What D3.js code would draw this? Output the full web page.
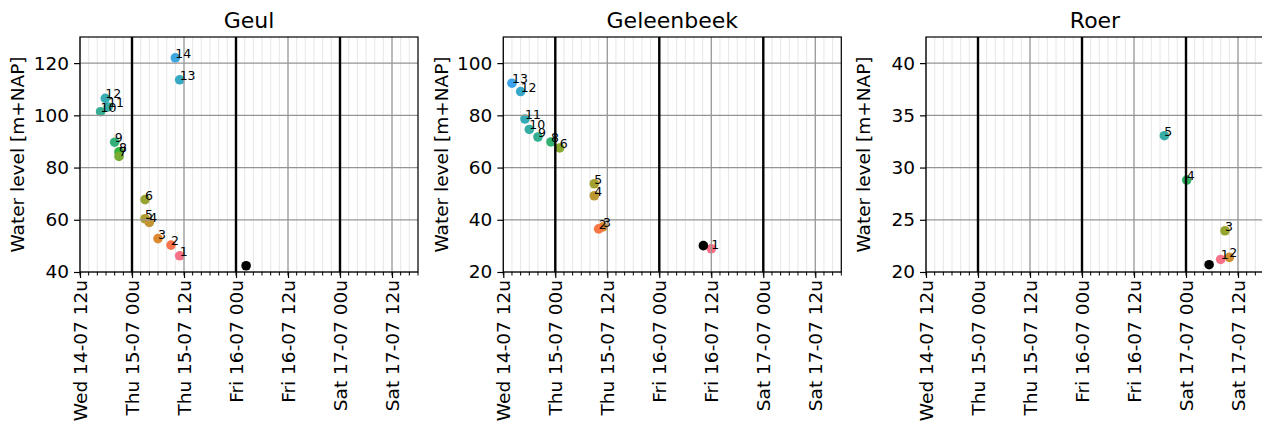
<!DOCTYPE html>
<html>
<head>
<meta charset="utf-8">
<script src="https://cdn.jsdelivr.net/npm/d3@7"></script>
<style>
  body { margin: 0; background: #fff; }
  text { font-family: "DejaVu Sans", sans-serif; fill: #000; }
</style>
</head>
<body>
<svg id="chart" width="1262" height="432"></svg>
<script>
// ---- data -------------------------------------------------------------
const stations = ["Geul", "Geleenbeek", "Roer"];

const geulLabels = [1, 2, 3, 4, 5, 6, 7, 8, 9, 10, 11, 12, 13, 14];
const geulTimes = ["2021-07-15T11:00", "2021-07-15T09:00", "2021-07-15T06:00", "2021-07-15T04:00",
                   "2021-07-15T03:00", "2021-07-15T03:00", "2021-07-14T21:00", "2021-07-14T21:00",
                   "2021-07-14T20:00", "2021-07-14T16:45", "2021-07-14T18:30", "2021-07-14T17:50",
                   "2021-07-15T11:00", "2021-07-15T10:00"];
const geulLevels = [46.2, 50.3, 52.8, 59.0, 60.4, 67.7, 84.3, 86.0, 89.7, 101.4, 103.2, 106.5, 113.6, 122.0];

const geleenLabels = [1, 2, 3, 4, 5, 6, 8, 9, 10, 11, 12, 13];
const geleenTimes = ["2021-07-16T12:00", "2021-07-15T10:00", "2021-07-15T11:00", "2021-07-15T09:00",
                     "2021-07-15T09:00", "2021-07-15T01:00", "2021-07-14T23:00", "2021-07-14T20:00",
                     "2021-07-14T18:00", "2021-07-14T17:00", "2021-07-14T16:00", "2021-07-14T14:00"];
const geleenLevels = [28.9, 36.5, 37.3, 49.2, 53.8, 67.5, 69.8, 71.7, 74.6, 78.6, 89.1, 92.3];

const roerLabels = [1, 2, 3, 4, 5];
const roerTimes = ["2021-07-17T08:00", "2021-07-17T10:00", "2021-07-17T09:00", "2021-07-17T00:10", "2021-07-16T19:00"];
const roerLevels = [21.2, 21.4, 23.95, 28.8, 33.05];

// latest measurement per station (black dot)
const nowTimes = ["2021-07-16T02:20", "2021-07-16T10:10", "2021-07-17T05:20"];
const nowLevels = [42.4, 30.1, 20.7];

const yDomains = [[40, 130], [20, 110], [20, 42.5]];
const yTicks = [[40, 60, 80, 100, 120], [20, 40, 60, 80, 100], [20, 25, 30, 35, 40]];
const xStart = "2021-07-14T12:00", xEnd = "2021-07-17T18:00";
const paletteSizes = [20, 18, 8];

const series = [
  {labels: geulLabels, times: geulTimes, levels: geulLevels},
  {labels: geleenLabels, times: geleenTimes, levels: geleenLevels},
  {labels: roerLabels, times: roerTimes, levels: roerLevels}
];

// ---- husl palette (as seaborn) ----------------------------------------
const M = [[3.240969941904521, -1.537383177570093, -0.498610760293003],
           [-0.96924363628087, 1.87596750150772, 0.041555057407175],
           [0.055630079696993, -0.20397695888897, 1.056971514242878]];
const refU = 0.19783000664283681, refV = 0.468319994938791;
const kappa = 903.2962962962963, epsilon = 0.0088564516790356308;

function maxChroma(L, H) {
  const sub1 = Math.pow(L + 16, 3) / 1560896;
  const sub2 = sub1 > epsilon ? sub1 : L / kappa;
  const hrad = H / 360 * 2 * Math.PI;
  let min = Infinity;
  M.forEach(([m1, m2, m3]) => {
    [0, 1].forEach(t => {
      const top1 = (284517 * m1 - 94839 * m3) * sub2;
      const top2 = (838422 * m3 + 769860 * m2 + 731718 * m1) * L * sub2 - 769860 * t * L;
      const bot = (632260 * m3 - 126452 * m2) * sub2 + 126452 * t;
      const len = (top2 / bot) / (Math.sin(hrad) - (top1 / bot) * Math.cos(hrad));
      if (len >= 0) min = Math.min(min, len);
    });
  });
  return min;
}

function husl(H, S, L) {
  const C = maxChroma(L, H) / 100 * S;
  const hrad = H / 360 * 2 * Math.PI;
  const U = Math.cos(hrad) * C, V = Math.sin(hrad) * C;
  const Y = L <= 8 ? L / kappa : Math.pow((L + 16) / 116, 3);
  const vu = U / (13 * L) + refU, vv = V / (13 * L) + refV;
  const X = 9 * Y * vu / (4 * vv);
  const Z = (9 * Y - 15 * vv * Y - vv * X) / (3 * vv);
  const f = c => c <= 0.0031308 ? 12.92 * c : 1.055 * Math.pow(c, 1 / 2.4) - 0.055;
  const rgb = M.map(r => Math.max(0, Math.min(1, f(r[0] * X + r[1] * Y + r[2] * Z))));
  return d3.rgb(rgb[0] * 255, rgb[1] * 255, rgb[2] * 255).formatHex();
}

function huslPalette(n) {
  return d3.range(n).map(i => husl(((i / n + 0.01) % 1) * 359, 89.1, 64.35));
}

// ---- layout -------------------------------------------------------------
const svg = d3.select('#chart');
const lefts = [80, 503.3, 926];
const axW = 338, axTop = 37, axBottom = 272;
const parse = d3.timeParse("%Y-%m-%dT%H:%M");
const fmt = d3.timeFormat("%a %d-%m %Hu");

stations.forEach((name, k) => {
  const g = svg.append('g').attr('transform', `translate(${lefts[k]},0)`);
  const x = d3.scaleTime().domain([parse(xStart), parse(xEnd)]).range([0, axW]);
  const y = d3.scaleLinear().domain(yDomains[k]).range([axBottom, axTop]);
  const colors = huslPalette(paletteSizes[k]);
  const s = series[k];
  const pts = s.labels.map((l, i) => ({label: l, t: parse(s.times[i]), v: s.levels[i]}));

  const minorT = d3.timeHour.every(2).range(x.domain()[0], d3.timeMinute.offset(x.domain()[1], 1));
  const majorT = d3.timeHour.every(12).range(x.domain()[0], d3.timeMinute.offset(x.domain()[1], 1));
  const midnights = majorT.filter(d => d.getHours() === 0);

  // minor grid
  g.selectAll('.minor').data(minorT).enter().append('line')
    .attr('x1', d => x(d)).attr('x2', d => x(d)).attr('y1', axTop).attr('y2', axBottom)
    .attr('stroke', '#e6e6e6').attr('stroke-width', 1);

  // points, highest label first
  g.selectAll('.pt').data(pts.slice().sort((a, b) => b.label - a.label)).enter().append('circle')
    .attr('cx', d => x(d.t)).attr('cy', d => y(d.v)).attr('r', 4.8)
    .attr('fill', d => colors[d.label - 1]);
  g.append('circle')
    .attr('cx', x(parse(nowTimes[k]))).attr('cy', y(nowLevels[k])).attr('r', 4.8)
    .attr('fill', '#000');

  // major grid
  g.selectAll('.vgrid').data(majorT).enter().append('line')
    .attr('x1', d => x(d)).attr('x2', d => x(d)).attr('y1', axTop).attr('y2', axBottom)
    .attr('stroke', '#949494').attr('stroke-width', 1.2);
  g.selectAll('.hgrid').data(yTicks[k]).enter().append('line')
    .attr('x1', 0).attr('x2', axW).attr('y1', d => y(d)).attr('y2', d => y(d))
    .attr('stroke', '#949494').attr('stroke-width', 1.2);
  g.selectAll('.day').data(midnights).enter().append('line')
    .attr('x1', d => x(d)).attr('x2', d => x(d)).attr('y1', axTop).attr('y2', axBottom)
    .attr('stroke', '#000').attr('stroke-width', 2.4);

  // frame
  g.append('rect').attr('x', 0).attr('y', axTop).attr('width', axW).attr('height', axBottom - axTop)
    .attr('fill', 'none').attr('stroke', '#000').attr('stroke-width', 1.2);

  // x axis
  const xAxis = d3.axisBottom(x).tickValues(majorT).tickFormat(fmt).tickSize(6).tickPadding(3);
  const xg = g.append('g').attr('transform', `translate(0,${axBottom})`).call(xAxis);
  xg.select('.domain').remove();
  xg.selectAll('.tick line').attr('stroke', '#000').attr('stroke-width', 1.2);
  xg.selectAll('.tick text')
    .attr('font-size', '18.5px').attr('font-family', '"DejaVu Sans", sans-serif').attr('fill', '#000')
    .attr('text-anchor', 'end').attr('x', 0).attr('y', 0).attr('dy', '0.35em')
    .attr('transform', 'translate(0,8) rotate(-90)');
  g.append('g').attr('transform', `translate(0,${axBottom})`)
    .selectAll('line').data(minorT).enter().append('line')
    .attr('x1', d => x(d)).attr('x2', d => x(d)).attr('y1', 0).attr('y2', 3.5)
    .attr('stroke', '#000').attr('stroke-width', 1);

  // y axis
  const yAxis = d3.axisLeft(y).tickValues(yTicks[k]).tickFormat(d3.format('d')).tickSize(6).tickPadding(5);
  const yg = g.append('g').call(yAxis);
  yg.select('.domain').remove();
  yg.selectAll('.tick line').attr('stroke', '#000').attr('stroke-width', 1.2);
  yg.selectAll('.tick text')
    .attr('font-size', '18.5px').attr('font-family', '"DejaVu Sans", sans-serif').attr('fill', '#000');

  g.append('text')
    .attr('transform', `translate(-62,${(axTop + axBottom) / 2}) rotate(-90)`)
    .attr('text-anchor', 'middle').attr('dy', '0.35em')
    .attr('font-size', '18.5px')
    .text('Water level [m+NAP]');

  g.append('text')
    .attr('x', axW / 2).attr('y', 28)
    .attr('text-anchor', 'middle')
    .attr('font-size', '22px')
    .text(name);

  // point labels
  g.selectAll('.lbl').data(pts).enter().append('text')
    .attr('x', d => x(d.t)).attr('y', d => y(d.v))
    .attr('font-size', '12.5px')
    .text(d => d.label);
});
</script>
</body>
</html>
